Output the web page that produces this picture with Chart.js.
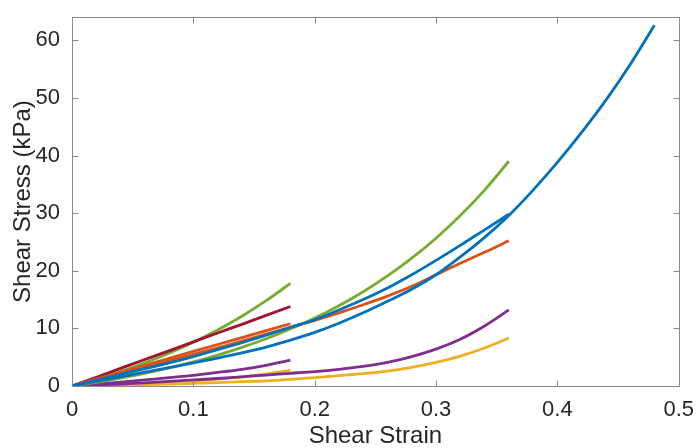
<!DOCTYPE html>
<html><head><meta charset="utf-8">
<script src="https://cdn.jsdelivr.net/npm/chart.js@4/dist/chart.umd.min.js"></script>
<style>html,body{margin:0;padding:0;background:#fff}#wrap{width:697px;height:448px}</style>
</head><body><div id="wrap"><canvas id="c" width="697" height="448"></canvas></div>
<script>
// strain samples
const strain18 = [0,0.02,0.04,0.06,0.08,0.10,0.12,0.14,0.16,0.18];
const strain36 = [0,0.02,0.04,0.06,0.08,0.10,0.12,0.14,0.16,0.18,0.20,0.22,0.24,0.26,0.28,0.30,0.32,0.34,0.36];
const strain48 = [0,0.02,0.04,0.06,0.08,0.10,0.12,0.14,0.16,0.18,0.20,0.22,0.24,0.26,0.28,0.30,0.32,0.34,0.36,0.38,0.40,0.42,0.44,0.46,0.48];

// stress (kPa), curves ending at 0.18
const green18  = [0,1.19,2.52,4.03,5.71,7.6,9.72,12.1,14.8,17.8];
const red18    = [0,1.5,3.05,4.6,6.1,7.65,9.2,10.7,12.25,13.8];
const orange18 = [0,1.2,2.4,3.6,4.8,6.0,7.2,8.4,9.6,10.8];
const purple18 = [0,0.3,0.65,1.05,1.45,1.85,2.35,2.9,3.6,4.5];
const yellow18 = [0,0.15,0.3,0.5,0.7,0.9,1.2,1.6,2.1,2.7];

// curves ending at 0.36
const green36  = [0,0.65,1.38,2.2,3.13,4.18,5.35,6.69,8.19,9.88,11.79,13.94,16.36,19.1,22.18,25.65,29.57,33.99,39.0];
const blue36   = [0,1.0,2.0,3.0,4.0,5.1,6.3,7.5,8.8,10.2,11.5,13.2,15.0,17.0,19.3,21.8,24.4,27.1,29.8];
const orange36 = [0,1.1,2.2,3.3,4.4,5.5,6.6,7.8,9.0,10.2,11.4,12.7,14.1,15.6,17.3,19.3,21.3,23.2,25.2];
const purple36 = [0,0.15,0.35,0.55,0.8,1.05,1.3,1.6,1.9,2.2,2.5,2.9,3.4,4.1,5.1,6.4,8.1,10.4,13.2];
const yellow36 = [0,0.05,0.15,0.25,0.35,0.45,0.6,0.75,0.9,1.15,1.45,1.8,2.15,2.6,3.25,4.1,5.2,6.6,8.3];

// curve ending at 0.48
const blue48   = [0,0.8,1.6,2.4,3.2,4.0,4.85,5.75,6.75,7.95,9.3,10.9,12.7,14.7,16.8,19.3,22.4,25.8,29.6,34.0,38.8,44.0,49.6,55.8,62.6];

const xTicks = [0,0.1,0.2,0.3,0.4,0.5];
const xTickLabels = ['0','0.1','0.2','0.3','0.4','0.5'];
const yTicks = [0,10,20,30,40,50,60];
const yTickLabels = ['0','10','20','30','40','50','60'];

const C = {blue:'#0072BD', orange:'#D95319', yellow:'#EDB120', purple:'#7E2F8E', green:'#77AC30', red:'#A2142F'};

function pts(xs, ys){ return xs.map((x,i)=>({x:x, y:ys[i]})); }
function ds(xs, ys, color, order){
  return {data: pts(xs,ys), borderColor: color, backgroundColor: color, borderWidth: 2.8,
          pointRadius: 0, fill: false, cubicInterpolationMode: 'monotone', order: order};
}

const datasets = [
  ds(strain48, blue48, C.blue, 1),
  ds(strain36, blue36, C.blue, 2),
  ds(strain36, orange36, C.orange, 3),
  ds(strain18, orange18, C.orange, 4),
  ds(strain18, red18, C.red, 5),
  ds(strain18, green18, C.green, 6),
  ds(strain36, green36, C.green, 7),
  ds(strain36, purple36, C.purple, 8),
  ds(strain18, purple18, C.purple, 9),
  ds(strain36, yellow36, C.yellow, 10),
  ds(strain18, yellow18, C.yellow, 11)
];

const boxPlugin = {
  id: 'box',
  afterDraw(chart){
    const {ctx, chartArea:a, scales} = chart;
    ctx.save();
    ctx.strokeStyle = '#8a8a8a';
    ctx.lineWidth = 1;
    const L = Math.round(a.left)+0.5, R = Math.round(a.right)+0.5, T = Math.round(a.top)+0.5, B = Math.round(a.bottom)+0.5;
    ctx.beginPath();
    ctx.rect(L, T, R-L, B-T);
    const tl = 6;
    xTicks.forEach(v=>{
      const px = Math.round(scales.x.getPixelForValue(v))+0.5;
      ctx.moveTo(px, B); ctx.lineTo(px, B-tl);
      ctx.moveTo(px, T); ctx.lineTo(px, T+tl);
    });
    yTicks.forEach(v=>{
      const py = Math.round(scales.y.getPixelForValue(v))+0.5;
      ctx.moveTo(L, py); ctx.lineTo(L+tl, py);
      ctx.moveTo(R, py); ctx.lineTo(R-tl, py);
    });
    ctx.stroke();
    ctx.restore();
  }
};

const tickFont = {family:'"Liberation Sans", Arial, Helvetica, sans-serif', size:22};
const titleFont = {family:'"Liberation Sans", Arial, Helvetica, sans-serif', size:24, lineHeight:1};

new Chart(document.getElementById('c'), {
  type: 'line',
  data: {datasets},
  plugins: [boxPlugin],
  options: {
    responsive: false, animation: false, devicePixelRatio: 1,
    layout: {padding: {top: 15, right: 18, left: 0, bottom: 0}},
    plugins: {legend: {display: false}, tooltip: {enabled: false}},
    scales: {
      x: {
        type: 'linear', min: 0, max: 0.5,
        grid: {display: false}, border: {display: false},
        afterBuildTicks: s => { s.ticks = xTicks.map(v=>({value:v})); },
        afterFit: s => { s.height = 62; },
        ticks: {color:'#262626', font: tickFont, padding: 3, maxRotation: 0,
                callback: (v, i) => xTickLabels[i]},
        title: {display: true, text: 'Shear Strain', color:'#262626', font: titleFont, padding: {top:0, bottom:0}}
      },
      y: {
        type: 'linear', min: 0, max: 64,
        grid: {display: false}, border: {display: false},
        afterBuildTicks: s => { s.ticks = yTicks.map(v=>({value:v})); },
        afterFit: s => { s.width = 72; },
        ticks: {color:'#262626', font: tickFont, padding: 4,
                callback: (v, i) => yTickLabels[i]},
        title: {display: true, text: 'Shear Stress (kPa)', color:'#262626', font: titleFont, padding: {top:11, bottom:0}}
      }
    }
  }
});
</script></body></html>
